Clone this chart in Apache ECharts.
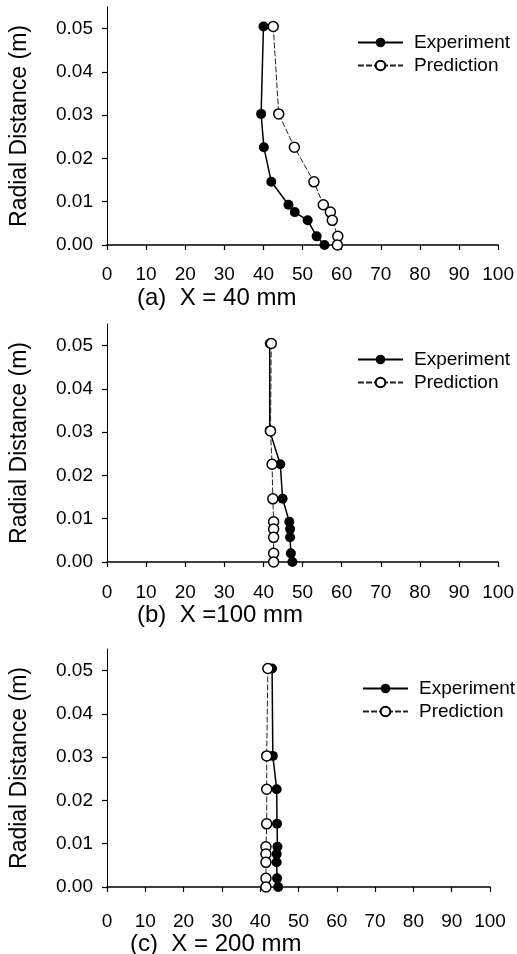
<!DOCTYPE html>
<html>
<head>
<meta charset="utf-8">
<script src="https://cdn.jsdelivr.net/npm/echarts@6/dist/echarts.min.js"></script>
<style>
html, body { margin: 0; padding: 0; background: #fff; }
#chart { width: 517px; height: 954px; }
</style>
</head>
<body>
<div id="chart"></div>
<script>
// radial positions (m), shared by every profile
var radial = [0.0505, 0.0303, 0.0226, 0.0146, 0.0093, 0.0076, 0.0057, 0.0020, 0.0];

// (a) X = 40 mm
var expA = [40.0, 39.4, 40.1, 42.0, 46.4, 48.0, 51.3, 53.6, 55.6];
var predA = [42.5, 43.9, 47.9, 52.9, 55.3, 57.1, 57.6, 59.0, 58.9];
// (b) X = 100 mm
var expB = [41.6, 41.6, 44.3, 44.9, 46.6, 46.8, 46.8, 47.0, 47.4];
var predB = [42.0, 41.8, 42.2, 42.4, 42.6, 42.6, 42.6, 42.6, 42.6];
// (c) X = 200 mm
var expC = [43.1, 43.3, 44.3, 44.4, 44.5, 44.3, 44.3, 44.4, 44.7];
var predC = [42.0, 41.7, 41.7, 41.7, 41.5, 41.5, 41.5, 41.5, 41.5];

var xTicks = [0, 10, 20, 30, 40, 50, 60, 70, 80, 90, 100];
var yTicks = [0, 0.01, 0.02, 0.03, 0.04, 0.05];
var captions = ['(a)  X = 40 mm', '(b)  X =100 mm', '(c)  X = 200 mm'];
var yTitle = 'Radial Distance (m)';

var font = 'Liberation Sans, Arial, sans-serif';

function pairs(xs) {
    return xs.map(function (x, i) { return [x, radial[i]] });
}

// panel boxes
var panels = [
    { left: 104, top: 7, width: 395, labelMargin: 20, capLeft: 137, capTop: 286, legTop: 33, legLeft: 357 },
    { left: 105, top: 324, width: 395, labelMargin: 21, capLeft: 137, capTop: 603, legTop: 350, legLeft: 357 },
    { left: 97, top: 649, width: 393, labelMargin: 25, capLeft: 130, capTop: 932, legTop: 679, legLeft: 362 }
];
var plotH = 238;

var grids = [], xAxes = [], yAxes = [], titles = [], legends = [], series = [];
var expData = [expA, expB, expC];
var predData = [predA, predB, predC];

panels.forEach(function (p, i) {
    grids.push({ left: p.left, top: p.top, width: p.width, height: plotH });
    xAxes.push({
        gridIndex: i, type: 'value', min: 0, max: 100, interval: 10,
        splitLine: { show: false },
        axisLine: { lineStyle: { color: '#000', width: 1.5 } },
        axisTick: { length: 5, lineStyle: { color: '#000', width: 1.2 }, customValues: xTicks },
        axisLabel: { color: '#000', fontSize: 19, fontFamily: font, margin: p.labelMargin, customValues: xTicks }
    });
    yAxes.push({
        gridIndex: i, type: 'value', min: 0, max: 0.055, interval: 0.01,
        splitLine: { show: false },
        axisLine: { show: true, lineStyle: { color: '#000', width: 1 } },
        axisTick: { show: true, length: 5, lineStyle: { color: '#000', width: 1.2 }, customValues: yTicks },
        axisLabel: {
            color: '#000', fontSize: 19, fontFamily: font, margin: 14, customValues: yTicks,
            formatter: function (v) { return v.toFixed(2) }
        },
        name: yTitle, nameLocation: 'middle', nameRotate: 90, nameGap: 76,
        nameTextStyle: { color: '#000', fontSize: 23, fontFamily: font }
    });
    titles.push({
        text: captions[i], left: p.capLeft, top: p.capTop, padding: 0,
        textStyle: { color: '#000', fontSize: 24, fontWeight: 'normal', fontFamily: font }
    });
    legends.push({
        orient: 'vertical', left: p.legLeft, top: p.legTop, padding: 0,
        itemWidth: 45, itemHeight: 12, itemGap: 4,
        data: ['Experiment', 'Prediction'],
        textStyle: { color: '#000', fontSize: 19, fontFamily: font, padding: [0, 0, 0, 6] }
    });
    series.push({
        name: 'Experiment', type: 'line', xAxisIndex: i, yAxisIndex: i,
        data: pairs(expData[i]),
        symbol: 'circle', symbolSize: 10,
        itemStyle: { color: '#000' },
        lineStyle: { color: '#000', width: 1.5 },
        animation: false
    });
    series.push({
        name: 'Prediction', type: 'line', xAxisIndex: i, yAxisIndex: i,
        data: pairs(predData[i]),
        symbol: 'circle', symbolSize: 10,
        itemStyle: { color: '#fff', borderColor: '#000', borderWidth: 1.5 },
        lineStyle: { color: '#222', width: 1, type: [6, 2] },
        animation: false
    });
});

var chart = echarts.init(document.getElementById('chart'));
chart.setOption({
    animation: false,
    backgroundColor: '#fff',
    title: titles,
    legend: legends,
    grid: grids,
    xAxis: xAxes,
    yAxis: yAxes,
    series: series
});
</script>
</body>
</html>
